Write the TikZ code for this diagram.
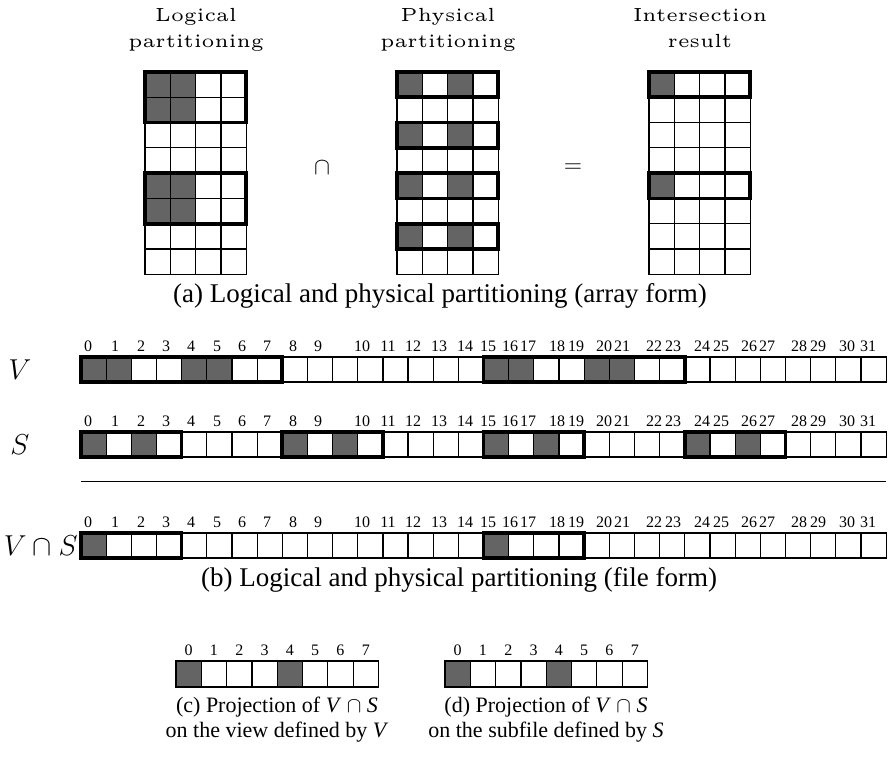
\documentclass[tikz,border=0pt]{standalone}
\usepackage{fontspec}
\setmainfont{Liberation Serif}
\definecolor{cellgray}{RGB}{100,100,100}
\newcommand\titlefont{\fontfamily{lmr}\fontsize{5}{7}\selectfont}
\newcommand\capfont{\fontsize{13.5}{16}\selectfont}
\newcommand\subcapfont{\fontsize{11}{12.5}\selectfont}
\newcommand\idxfont{\fontsize{8}{9}\selectfont}
\newcommand\grptitle[2]{\scalebox{1.9}{\titlefont\begin{tabular}{@{}c@{}}#1\\#2\end{tabular}}}
\tikzset{
  cellbox/.style={draw=black, line width=0.6pt},
  groupbox/.style={draw=black, line width=1.8pt},
  shaded/.style={fill=cellgray},
  idx/.style={font=\idxfont, inner sep=0pt, anchor=base},
  captext/.style={font=\capfont, align=center, inner sep=0pt},
  subcaptext/.style={font=\subcapfont, align=center, inner sep=0pt, anchor=north},
  rowlabel/.style={font=\fontsize{13.5}{16}\selectfont, inner sep=0pt},
}
\begin{document}
\begin{tikzpicture}[x=0.5pt, y=-0.5pt]
\useasboundingbox (0,0) rectangle (889,763);
\def\aw{25.3}
\def\fw{25.16}

% ---------- array form ----------
\node (tlog)  at (196,29) {\grptitle{Logical}{partitioning}};
\node (tphy)  at (448,29) {\grptitle{Physical}{partitioning}};
\node (tint)  at (700,29) {\grptitle{Intersection}{result}};

% shaded cells
\foreach \r in {0,1,4,5}{\foreach \c in {0,1}{
  \fill[shaded] ({145+\c*\aw},{72+\r*\aw}) rectangle ++(\aw,\aw);}}
\foreach \r in {0,2,4,6}{\foreach \c in {0,2}{
  \fill[shaded] ({397+\c*\aw},{72+\r*\aw}) rectangle ++(\aw,\aw);}}
\foreach \r in {0,4}{
  \fill[shaded] (649,{72+\r*\aw}) rectangle ++(\aw,\aw);}

% cell grids
\foreach \gx in {145,397,649}{
  \foreach \r in {0,...,7}{\foreach \c in {0,...,3}{
    \draw[cellbox] ({\gx+\c*\aw},{72+\r*\aw}) rectangle ++(\aw,\aw);}}}

% partition outlines
\foreach \r in {0,4}{
  \draw[groupbox] (145,{72+\r*\aw}) rectangle ++({4*\aw},{2*\aw});}
\foreach \r in {0,2,4,6}{
  \draw[groupbox] (397,{72+\r*\aw}) rectangle ++({4*\aw},\aw);}
\foreach \r in {0,4}{
  \draw[groupbox] (649,{72+\r*\aw}) rectangle ++({4*\aw},\aw);}

\node[font=\fontsize{12}{14}\selectfont] (opcap) at (322,168) {$\cap$};
\node[font=\fontsize{12}{14}\selectfont] (opeq)  at (573,168) {$=$};

\node[captext] (capa) at (440,296) {(a) Logical and physical partitioning (array form)};

% ---------- file form ----------
\node[rowlabel] (lv)  at (20,370) {$V$};
\node[rowlabel] (ls)  at (20,445) {$S$};
\node[rowlabel, anchor=east] (lvs) at (78,546) {$V\cap S$};

% shaded blocks
\foreach \k in {0,1,4,5,16,17,20,21}{
  \fill[shaded] ({81+\k*\fw},357) rectangle ++(\fw,25);}
\foreach \k in {0,2,8,10,16,18,24,26}{
  \fill[shaded] ({81+\k*\fw},432) rectangle ++(\fw,25);}
\foreach \k in {0,16}{
  \fill[shaded] ({81+\k*\fw},533) rectangle ++(\fw,25);}

% blocks and indices
\foreach \y in {357,432,533}{
  \foreach \k in {0,...,31}{
    \draw[cellbox] ({81+\k*\fw},\y) rectangle ++(\fw,25);}
  \foreach \k/\px in {0/88,1/115,2/141,3/166,4/191,5/217,6/242,7/267,
      8/293,9/318,10/362,11/388,12/413,13/439,14/465,15/488,16/510,17/528,
      18/557,19/576,20/604,21/622,22/654,23/673,24/702,25/721,26/749,27/767,
      28/799,29/818,30/847,31/868}{
    \node[idx] (i\y-\k) at (\px,{\y-5.5}) {\k};}}

% view and subfile extents
\foreach \k in {0,16}{
  \draw[groupbox] ({81+\k*\fw},357) rectangle ++({8*\fw},25);}
\foreach \k in {0,8,16,24}{
  \draw[groupbox] ({81+\k*\fw},432) rectangle ++({4*\fw},25);}
\foreach \k in {0,16}{
  \draw[groupbox] ({81+\k*\fw},533) rectangle ++({4*\fw},25);}

\coordinate (rulel) at (81,482);
\coordinate (ruler) at (886,482);
\draw[line width=0.5pt] (rulel) -- (ruler);

\node[captext] (capb) at (459,580) {(b) Logical and physical partitioning (file form)};

% ---------- projections ----------
\foreach \gx in {176,445}{
  \foreach \k in {0,4}{
    \fill[shaded] ({\gx+\k*\aw},661) rectangle ++(\aw,26);}
  \foreach \k in {0,...,7}{
    \draw[cellbox] ({\gx+\k*\aw},661) rectangle ++(\aw,26);
    \node[idx] (p\gx-\k) at ({\gx+(\k+0.5)*\aw},655.5) {\k};}}

\node[subcaptext] (capc) at (277,697) {(c) Projection of \textit{V} $\cap$ \textit{S}\\on the view defined by \textit{V}};
\node[subcaptext] (capd) at (546,697) {(d) Projection of \textit{V} $\cap$ \textit{S}\\on the subfile defined by \textit{S}};
\end{tikzpicture}
\end{document}
